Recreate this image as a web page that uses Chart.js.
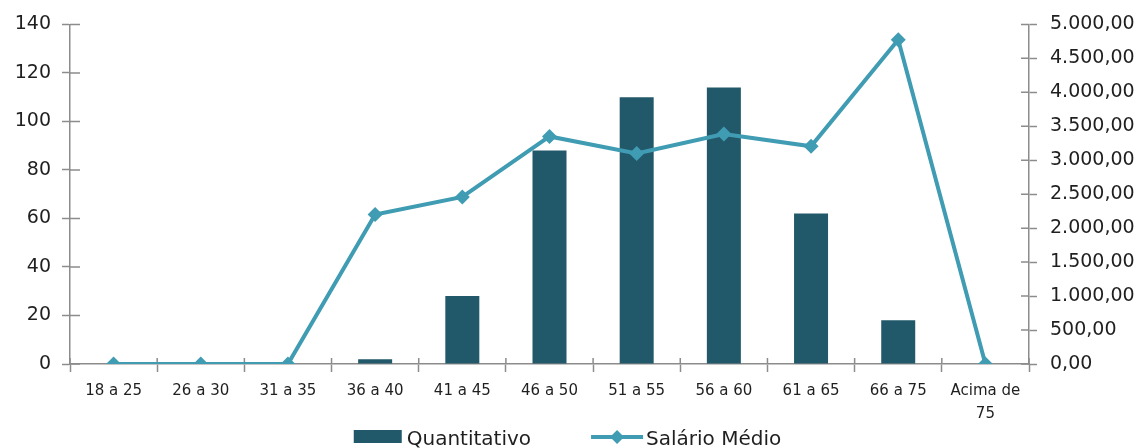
<!DOCTYPE html>
<html lang="pt-BR">
<head>
<meta charset="utf-8">
<title>Quantitativo e Salário Médio por faixa etária</title>
<script src="https://cdn.jsdelivr.net/npm/chart.js@4/dist/chart.umd.min.js"></script>
<style>
  html, body { margin: 0; padding: 0; background: #fff; overflow: hidden; }
</style>
</head>
<body>
<canvas id="grafico" width="1143" height="448"></canvas>
<script>
// faixas etárias
const categorias = ['18 a 25', '26 a 30', '31 a 35', '36 a 40', '41 a 45', '46 a 50',
  '51 a 55', '56 a 60', '61 a 65', '66 a 75', ['Acima de', '75']];
const quantitativo = [0, 0, 0, 2, 28, 88, 110, 114, 62, 18, 0];
const salarioMedio = [0, 0, 0, 2200, 2460, 3350, 3100, 3385, 3205, 4775, 0];

// escalas (min, max, passo)
const escalaQuantidade = [0, 140, 20];
const escalaSalario = [0, 5000, 500];

const corBarras = '#22596a';
const corLinha = '#3f9cb3';
const corEixo = '#8c8c8c';
const corTexto = '#1f1f1f';

function formatoBR(v) {
  const partes = Number(v).toFixed(2).split('.');
  return partes[0].replace(/\B(?=(\d{3})+(?!\d))/g, '.') + ',' + partes[1];
}

// marcas de escala que atravessam o eixo (estilo Excel)
const marcasInternas = {
  id: 'marcasInternas',
  beforeDatasetsDraw(chart) {
    const ctx = chart.ctx;
    const area = chart.chartArea;
    ctx.save();
    ctx.strokeStyle = corEixo;
    ctx.lineWidth = 1.5;
    ctx.beginPath();
    const yq = chart.scales.y;
    yq.ticks.forEach((t, i) => {
      const p = yq.getPixelForTick(i);
      ctx.moveTo(area.left, p);
      ctx.lineTo(area.left + 10, p);
    });
    const ys = chart.scales.y1;
    ys.ticks.forEach((t, i) => {
      const p = ys.getPixelForTick(i);
      ctx.moveTo(area.right - 8, p);
      ctx.lineTo(area.right, p);
    });
    const n = categorias.length;
    const passo = (area.right - area.left) / n;
    for (let i = 0; i <= n; i++) {
      const px = area.left + i * passo;
      ctx.moveTo(px, area.bottom - 6);
      ctx.lineTo(px, area.bottom);
    }
    ctx.stroke();
    ctx.restore();
  }
};

// legenda inferior: caixa para as barras, linha com losango para a série de linha
const legenda = {
  id: 'legendaInferior',
  afterDraw(chart) {
    const ctx = chart.ctx;
    const ds = chart.data.datasets;
    const barras = ds.find(d => d.type === 'bar');
    const linha = ds.find(d => d.type === 'line');
    ctx.save();
    ctx.font = '20px "DejaVu Sans"';
    ctx.textBaseline = 'alphabetic';
    ctx.textAlign = 'left';
    const w1 = ctx.measureText(barras.label).width;
    const w2 = ctx.measureText(linha.label).width;
    const total = 48 + 5 + w1 + 60 + 52 + 3 + w2;
    let x = chart.width / 2 - total / 2 - 4;
    const base = 445;
    const meio = 437;

    ctx.fillStyle = barras.backgroundColor;
    ctx.fillRect(x, 430, 48, 13);
    x += 48 + 5;
    ctx.fillStyle = corTexto;
    ctx.fillText(barras.label, x, base);
    x += w1 + 60;

    ctx.strokeStyle = linha.borderColor;
    ctx.lineWidth = 4;
    ctx.beginPath();
    ctx.moveTo(x, meio);
    ctx.lineTo(x + 52, meio);
    ctx.stroke();
    ctx.fillStyle = linha.borderColor;
    ctx.beginPath();
    ctx.moveTo(x + 26, meio - 7);
    ctx.lineTo(x + 33, meio);
    ctx.lineTo(x + 26, meio + 7);
    ctx.lineTo(x + 19, meio);
    ctx.closePath();
    ctx.fill();
    x += 52 + 3;
    ctx.fillStyle = corTexto;
    ctx.fillText(linha.label, x, base);
    ctx.restore();
  }
};

const data = {
  labels: categorias,
  datasets: [
    {
      type: 'line',
      label: 'Salário Médio',
      data: salarioMedio,
      yAxisID: 'y1',
      borderColor: corLinha,
      backgroundColor: corLinha,
      borderWidth: 4,
      pointStyle: 'rectRot',
      pointRadius: 7.5,
      pointHoverRadius: 7.5,
      pointBorderWidth: 0,
      tension: 0,
      order: 0
    },
    {
      type: 'bar',
      label: 'Quantitativo',
      data: quantitativo,
      yAxisID: 'y',
      backgroundColor: corBarras,
      borderWidth: 0,
      categoryPercentage: 1,
      barPercentage: 0.39,
      order: 1
    }
  ]
};

const config = {
  type: 'bar',
  data: data,
  options: {
    responsive: false,
    animation: false,
    devicePixelRatio: 1,
    layout: { autoPadding: false, padding: { top: 21, left: 0, right: 0, bottom: 0 } },
    plugins: {
      legend: { display: false },
      tooltip: { enabled: false }
    },
    scales: {
      x: {
        offset: true,
        grid: {
          offset: true,
          drawOnChartArea: false,
          drawTicks: true,
          tickLength: 8,
          tickColor: corEixo,
          tickWidth: 1.5
        },
        border: { display: true, color: corEixo, width: 1.5 },
        ticks: {
          color: corTexto,
          font: { family: '"DejaVu Sans"', size: 15, lineHeight: 1.5 },
          padding: 8,
          maxRotation: 0,
          autoSkip: false
        },
        afterFit(scale) { scale.height = 84; }
      },
      y: {
        position: 'left',
        min: escalaQuantidade[0],
        max: escalaQuantidade[1],
        grid: {
          drawOnChartArea: false,
          tickLength: 8,
          tickColor: corEixo,
          tickWidth: 1.5
        },
        border: { display: true, color: corEixo, width: 1.5 },
        ticks: {
          stepSize: escalaQuantidade[2],
          color: corTexto,
          font: { family: '"DejaVu Sans"', size: 19 },
          padding: 11
        },
        afterFit(scale) { scale.width = 70; }
      },
      y1: {
        position: 'right',
        min: escalaSalario[0],
        max: escalaSalario[1],
        grid: {
          drawOnChartArea: false,
          tickLength: 8,
          tickColor: corEixo,
          tickWidth: 1.5
        },
        border: { display: true, color: corEixo, width: 1.5 },
        ticks: {
          stepSize: escalaSalario[2],
          color: corTexto,
          font: { family: '"DejaVu Sans"', size: 19 },
          padding: 13,
          callback: (v) => formatoBR(v)
        },
        afterFit(scale) { scale.width = 114; }
      }
    }
  },
  plugins: [marcasInternas, legenda]
};

new Chart(document.getElementById('grafico'), config);
</script>
</body>
</html>
